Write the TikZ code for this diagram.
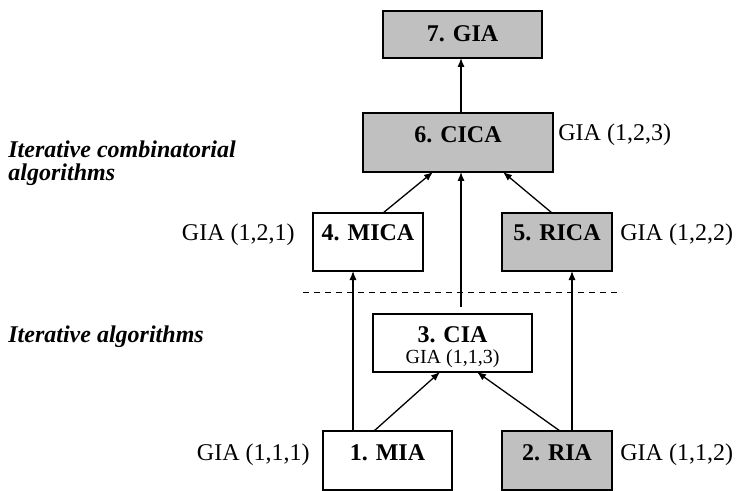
\documentclass[tikz,border=0pt]{standalone}
\usepackage{fontspec}
\setmainfont{Liberation Serif}
\usetikzlibrary{arrows.meta}
\definecolor{boxgray}{HTML}{C0C0C0}
\begin{document}
\begin{tikzpicture}[x=0.5pt,y=-0.5pt,
  wbox/.style={draw, line width=0.8pt, fill=white, inner sep=0pt, outer sep=0pt},
  gbox/.style={wbox, fill=boxgray},
  btxt/.style={font=\bfseries\fontsize{12}{14}\selectfont, inner sep=0pt},
  stxt/.style={font=\fontsize{10}{12}\selectfont, inner sep=0pt},
  lbl/.style={font=\fontsize{12}{14}\selectfont, inner sep=0pt},
  side/.style={font=\bfseries\itshape\fontsize{12}{14}\selectfont, inner sep=0pt, anchor=base west},
  arr/.style={line width=0.65pt, -{Latex[length=4.5pt,width=3.6pt]}},
  sep/.style={line width=0.5pt, dash pattern=on 3pt off 2.5pt}]
\useasboundingbox (0,0) rectangle (737,491);

% boxes
\node[gbox, minimum width=79.5pt, minimum height=23.5pt] (n7) at (462.5,34.5) {};
\node[gbox, minimum width=95pt, minimum height=29.5pt] (n6) at (458,142.5) {};
\node[wbox, minimum width=55pt, minimum height=29pt] (n4) at (368,242) {};
\node[gbox, minimum width=55pt, minimum height=29pt] (n5) at (557,242) {};
\node[wbox, minimum width=79.5pt, minimum height=29pt] (n3) at (452.5,343) {};
\node[wbox, minimum width=64.5pt, minimum height=29.5pt] (n1) at (387.5,460.5) {};
\node[gbox, minimum width=55pt, minimum height=29.5pt] (n2) at (557,460.5) {};

% box texts
\node[btxt] (t7) at (462.5,34) {7. GIA};
\node[btxt] (t6) at (458,135) {6. CICA};
\node[btxt] (t4) at (368,233) {4. MICA};
\node[btxt] (t5) at (557,233) {5. RICA};
\node[btxt] (t3) at (452.5,335) {3. CIA};
\node[stxt] (t3b) at (452.5,359) {GIA (1,1,3)};
\node[btxt] (t1) at (387.5,453) {1. MIA};
\node[btxt] (t2) at (557,453) {2. RIA};

% side labels
\node[lbl, anchor=west] (g6) at (558,135) {GIA (1,2,3)};
\node[lbl, anchor=east] (g4) at (295,235) {GIA (1,2,1)};
\node[lbl, anchor=west] (g5) at (620,235) {GIA (1,2,2)};
\node[lbl, anchor=east] (g1) at (310,455) {GIA (1,1,1)};
\node[lbl, anchor=west] (g2) at (620,455) {GIA (1,1,2)};

\node[side] (c1) at (8,158) {Iterative combinatorial};
\node[side] (c2) at (8,181) {algorithms};
\node[side] (c3) at (8,342) {Iterative algorithms};

% separator
\draw[sep] (303,292) -- (622,292);

% connectors
\coordinate (xa) at (461,0);
\coordinate (xb) at (353,0);
\coordinate (xc) at (572,0);
\draw[arr] (n6.north -| xa) -- (n7.south -| xa);
\draw[arr] ([yshift=3.5pt]n3.north -| xa) -- (n6.south -| xa);
\draw[arr] (n1.north -| xb) -- (n4.south -| xb);
\draw[arr] (n2.north -| xc) -- (n5.south -| xc);
\draw[arr] ([xshift=25.5pt]n1.north west) -- ([xshift=33.5pt]n3.south west);
\draw[arr] ([xshift=29pt]n2.north west) -- ([xshift=52pt]n3.south west);
\draw[arr] ([xshift=35pt]n4.north west) -- ([xshift=35pt]n6.south west);
\draw[arr] ([xshift=25pt]n5.north west) -- ([xshift=70pt]n6.south west);
\end{tikzpicture}
\end{document}
